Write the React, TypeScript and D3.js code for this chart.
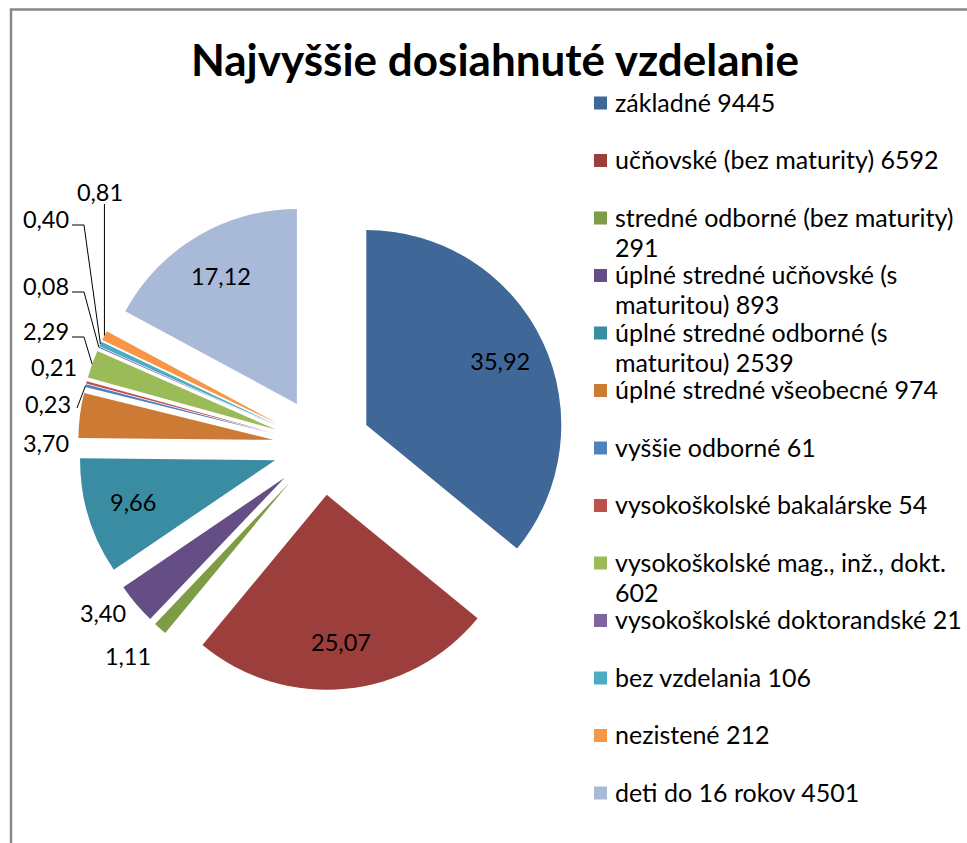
import * as d3 from 'd3';
import React, { useMemo } from 'react';

// Najvyššie dosiahnuté vzdelanie – počty osôb
const categories = [
    'základné',
    'učňovské (bez maturity)',
    'stredné odborné (bez maturity)',
    'úplné stredné učňovské (s maturitou)',
    'úplné stredné odborné (s maturitou)',
    'úplné stredné všeobecné',
    'vyššie odborné',
    'vysokoškolské bakalárske',
    'vysokoškolské mag., inž., dokt.',
    'vysokoškolské doktorandské',
    'bez vzdelania',
    'nezistené',
    'deti do 16 rokov',
];
const counts = [9445, 6592, 291, 893, 2539, 974, 61, 54, 602, 21, 106, 212, 4501];
const colors = [
    '#3F6797', '#9B3E3C', '#7E9B45', '#654D86', '#3A8CA3', '#CC7A34',
    '#4F81BD', '#C0504D', '#9BBB59', '#8064A2', '#4BACC6', '#F79646',
    '#A9B9D8',
];

// placement of labels that sit outside their slice (centre of the text)
type Leader = 'none' | 'elbow' | 'direct' | 'down';
const outsideLabels: { [i: number]: { x: number; y: number; leader: Leader } } = {
    2: { x: 128, y: 657, leader: 'none' },
    3: { x: 103, y: 614, leader: 'none' },
    5: { x: 46, y: 444, leader: 'none' },
    6: { x: 48, y: 405, leader: 'direct' },
    7: { x: 54, y: 368, leader: 'none' },
    8: { x: 46, y: 332, leader: 'elbow' },
    9: { x: 46, y: 287, leader: 'elbow' },
    10: { x: 46, y: 220, leader: 'elbow' },
    11: { x: 100, y: 193, leader: 'down' },
};

const W = 967;
const H = 843;
const cx = 322;
const cy = 446;
const R = 195;
const explode = 49;
const font = 'Lato, "Open Sans", sans-serif';
const legendSize = 25;
const labelSize = 23.5;

const fmt = (v: number) => v.toFixed(2).replace('.', ',');

const wrap = (text: string, maxWidth: number) => {
    const ctx = document.createElement('canvas').getContext('2d')!;
    ctx.font = `${legendSize}px ${font}`;
    const words = text.split(' ');
    const lines: string[] = [];
    let line = '';
    words.forEach((w) => {
        const test = line ? `${line} ${w}` : w;
        if (line && ctx.measureText(test).width > maxWidth) {
            lines.push(line);
            line = w;
        } else line = test;
    });
    lines.push(line);
    return lines;
};

const App = () => {
    const total = d3.sum(counts);
    const arcs = d3
        .pie<number>()
        .sort(null)
        .value((d) => d)(counts);
    const arc = d3.arc<d3.PieArcDatum<number>>().innerRadius(0).outerRadius(R);

    const legend = useMemo(
        () => categories.map((c, i) => wrap(`${c} ${counts[i]}`, 362)),
        [],
    );
    const legendY = d3
        .scaleLinear()
        .domain([0, categories.length - 1])
        .range([103, 793]);

    return (
        <svg
            width={W}
            height={H}
            style={{ position: 'absolute', left: 0, top: 0, display: 'block' }}
            fontFamily={font}
        >
            <rect x={0} y={0} width={W} height={H} fill="#fff" />
            <rect
                x={11}
                y={9.5}
                width={W + 20}
                height={H + 20}
                fill="none"
                stroke="#878787"
                strokeWidth={2.5}
            />
            <text
                x={495}
                y={76}
                textAnchor="middle"
                fontSize={44}
                fontWeight="bold"
                fill="#000"
            >
                Najvyššie dosiahnuté vzdelanie
            </text>

            {arcs.map((a, i) => {
                const mid = (a.startAngle + a.endAngle) / 2;
                const dx = explode * Math.sin(mid);
                const dy = -explode * Math.cos(mid);
                return (
                    <path
                        key={i}
                        d={arc(a) ?? ''}
                        fill={colors[i]}
                        transform={`translate(${cx + dx},${cy + dy})`}
                    />
                );
            })}

            {arcs.map((a, i) => {
                const mid = (a.startAngle + a.endAngle) / 2;
                const sx = Math.sin(mid);
                const sy = -Math.cos(mid);
                const label = fmt((counts[i] / total) * 100);
                const out = outsideLabels[i];
                if (!out) {
                    const r = explode + R * 0.76;
                    return (
                        <text
                            key={i}
                            x={cx + r * sx}
                            y={cy + r * sy}
                            dy="0.35em"
                            textAnchor="middle"
                            fontSize={labelSize}
                            fill="#000"
                        >
                            {label}
                        </text>
                    );
                }
                // point on the outer edge of the exploded slice
                const px = cx + (explode + R) * sx;
                const py = cy + (explode + R) * sy;
                const half = 24;
                let pts: [number, number][] = [];
                if (out.leader === 'elbow') {
                    const ly = out.y + 5;
                    pts = [
                        [out.x + half + 2, ly],
                        [out.x + half + 14, ly],
                        [px, py],
                    ];
                } else if (out.leader === 'direct') {
                    pts = [
                        [out.x + half + 5, out.y + 3],
                        [px, py],
                    ];
                } else if (out.leader === 'down') {
                    pts = [
                        [px, out.y + 11],
                        [px, py],
                    ];
                }
                return (
                    <g key={i}>
                        {pts.length > 0 && (
                            <path
                                d={d3.line()(pts) ?? ''}
                                fill="none"
                                stroke="#000"
                                strokeWidth={1}
                            />
                        )}
                        <text
                            x={out.x}
                            y={out.y}
                            dy="0.35em"
                            textAnchor="middle"
                            fontSize={labelSize}
                            fill="#000"
                        >
                            {label}
                        </text>
                    </g>
                );
            })}

            {legend.map((lines, i) => (
                <g key={i} transform={`translate(594,${legendY(i)})`}>
                    <rect x={0} y={-6.5} width={13} height={13} fill={colors[i]} />
                    {lines.map((l, j) => (
                        <text
                            key={j}
                            x={21}
                            y={j * 30}
                            dy="0.35em"
                            fontSize={legendSize}
                            fill="#000"
                        >
                            {l}
                        </text>
                    ))}
                </g>
            ))}
        </svg>
    );
};

export default App;
